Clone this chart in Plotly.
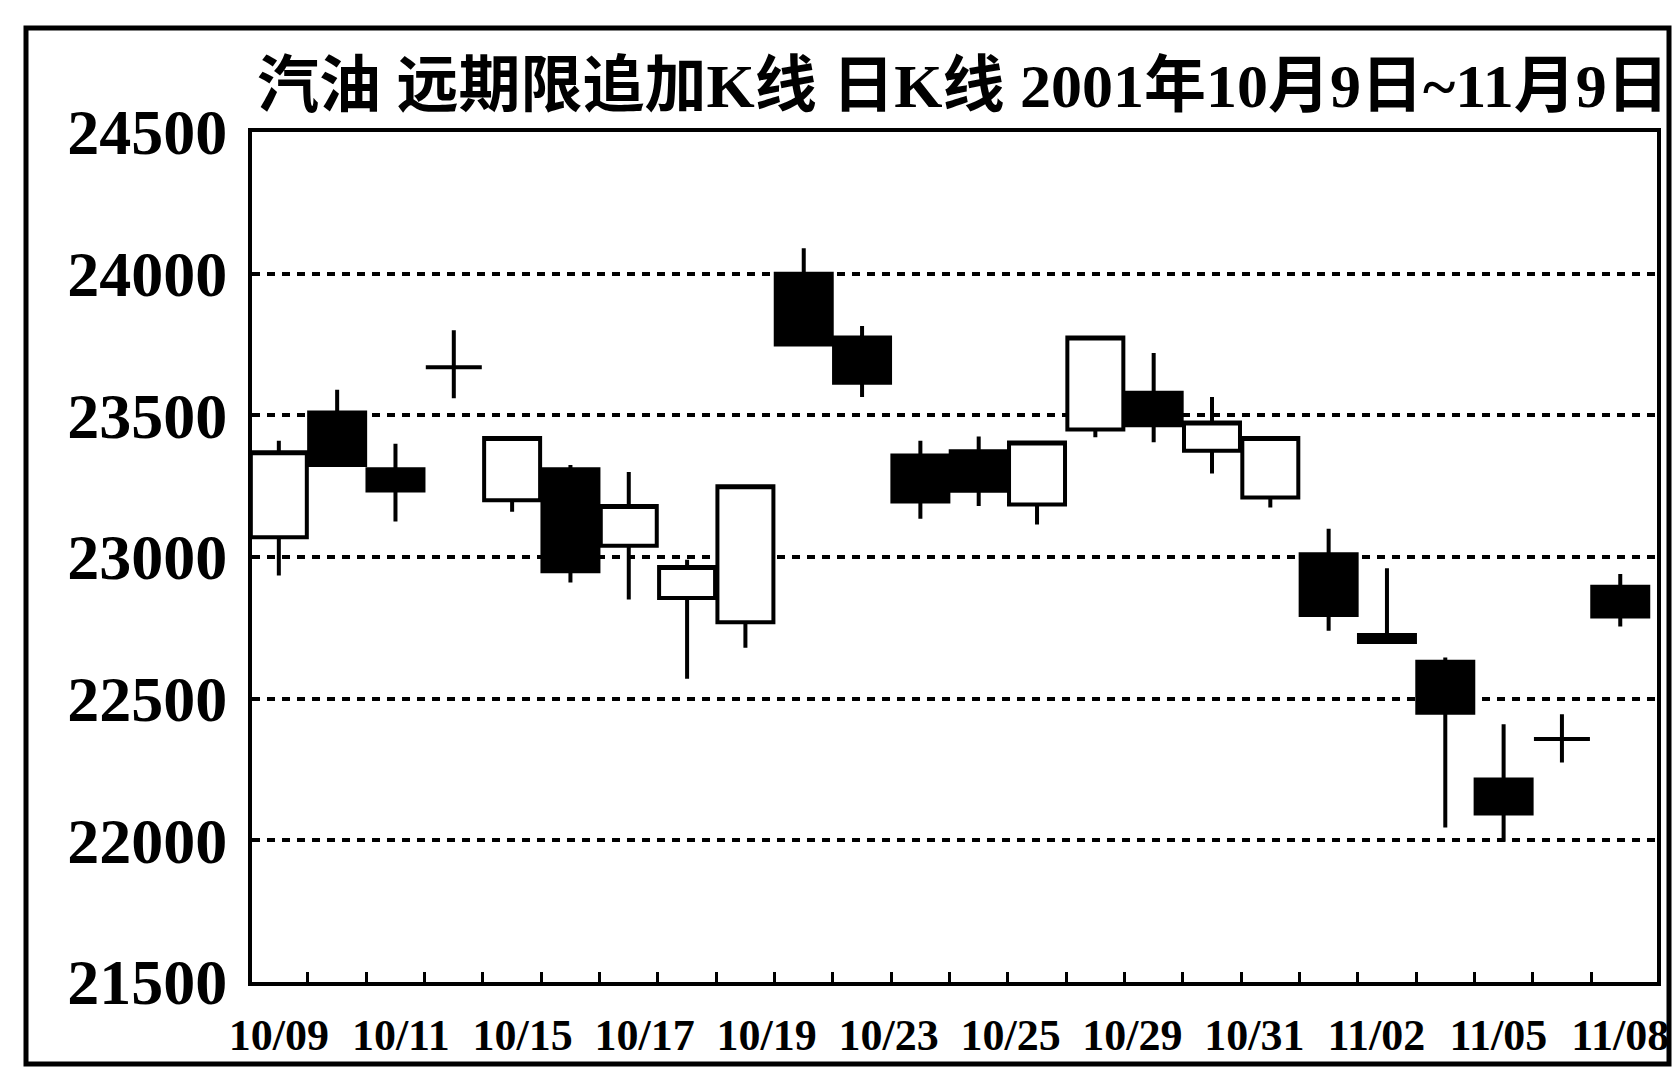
import numpy as np
import plotly.graph_objects as go

# ---- data ----
dates = ["10/09", "10/10", "10/11", "10/12", "10/15", "10/16", "10/17", "10/18",
         "10/19", "10/22", "10/23", "10/24", "10/25", "10/26", "10/29", "10/30",
         "10/31", "11/01", "11/02", "11/05", "11/06", "11/07", "11/08", "11/09"]
open_ = [23070, 23510, 23310, 23670, 23200, 23310, 23040, 22855,
         22770, 24000, 23775, 23358, 23373, 23185, 23450, 23580,
         23375, 23210, 23010, 22725, 22630, 22215, 22358, 22895]
high = [23410, 23590, 23400, 23800, 23420, 23325, 23300, 22990,
        23250, 24090, 23815, 23410, 23425, 23404, 23775, 23720,
        23565, 23420, 23100, 22960, 22645, 22410, 22445, 22940]
low = [22935, 23320, 23125, 23560, 23160, 22910, 22850, 22570,
       22680, 23750, 23565, 23135, 23180, 23115, 23423, 23405,
       23295, 23175, 22740, 22700, 22045, 21995, 22275, 22755]
close = [23370, 23325, 23235, 23670, 23420, 22950, 23180, 22965,
         23250, 23750, 23615, 23196, 23234, 23404, 23775, 23465,
         23475, 23420, 22795, 22700, 22450, 22095, 22358, 22790]
tick_labels = ["10/09", "10/11", "10/15", "10/17", "10/19", "10/23",
               "10/25", "10/29", "10/31", "11/02", "11/05", "11/08"]
y_ticks = [21500, 22000, 22500, 23000, 23500, 24000, 24500]
title = "汽油 远期限追加K线 日K线 2001年10月9日~11月9日"

x = np.arange(len(dates))
tick_pos = np.linspace(0, len(dates) - 1, len(tick_labels))
minor_pos = np.arange(0.5, len(dates) - 1, 1.0)

# figure size leaves room for the page's 8px body margin
W, H = 1664, 1075
L, T = 244, 124
PR, PB = 1649, 974          # plot right / bottom edges (px)
R, B = W - PR, H - PB
pw, ph = PR - L, PB - T

def px_x(p):
    return (p - L) / pw

def px_y(p):
    return (PB - p) / ph

fig = go.Figure()
fig.add_trace(go.Candlestick(
    x=x, open=open_, high=high, low=low, close=close,
    text=dates, hoverinfo="text+y",
    whiskerwidth=0,
    increasing=dict(fillcolor="white", line=dict(color="black", width=4)),
    decreasing=dict(fillcolor="black", line=dict(color="black", width=4)),
    showlegend=False,
))

serif = "Liberation Serif, Noto Sans CJK SC, serif"

fig.update_layout(
    width=W, height=H, autosize=False,
    margin=dict(l=L, r=R, t=T, b=B, pad=0),
    paper_bgcolor="white", plot_bgcolor="white",
    boxgap=0.04, boxgroupgap=0,
    showlegend=False,
    title=dict(text=title, x=px_x(L + 5), xref="paper", xanchor="left",
               y=1 - 77 / H, yref="container", yanchor="middle",
               font=dict(family=serif, size=62, color="black", weight="bold")),
    xaxis=dict(
        automargin=False,
        range=[-0.46, len(dates) - 1 + 0.63],
        rangeslider=dict(visible=False),
        tickmode="array", tickvals=tick_pos, ticktext=tick_labels,
        ticks="", showgrid=False, zeroline=False,
        showline=True, mirror=True, linecolor="black", linewidth=4,
        tickfont=dict(family="Liberation Serif, serif",
                      size=44, color="black", weight="bold"),
        ticklabelstandoff=11,
        minor=dict(tickmode="array", tickvals=minor_pos, ticks="inside",
                   ticklen=10, tickwidth=3, tickcolor="black", showgrid=False),
    ),
    yaxis=dict(
        automargin=False,
        range=[y_ticks[0], y_ticks[-1]],
        tickmode="array", tickvals=y_ticks, ticktext=[str(v) for v in y_ticks],
        ticks="", zeroline=False,
        showgrid=True, gridcolor="black", gridwidth=4, griddash="8px,7px",
        showline=True, mirror=True, linecolor="black", linewidth=4,
        tickfont=dict(family=serif, size=64, color="black", weight="bold"),
        ticklabelstandoff=8,
    ),
    shapes=[dict(type="rect", xref="paper", yref="paper",
                 x0=px_x(18), x1=px_x(1661), y0=px_y(1056), y1=px_y(20),
                 line=dict(color="black", width=5), fillcolor="rgba(0,0,0,0)",
                 layer="below")],
)

fig.write_html("out.html")
